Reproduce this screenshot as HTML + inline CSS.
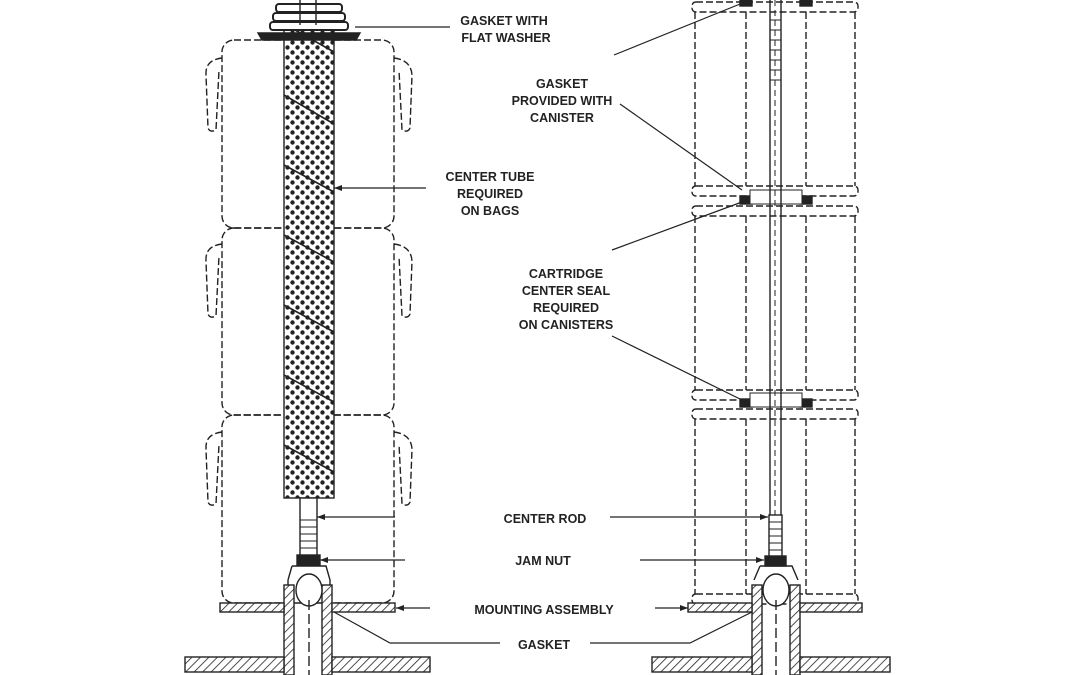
<!DOCTYPE html>
<html><head><meta charset="utf-8"><style>
html,body{margin:0;padding:0;background:#fff;width:1080px;height:675px;overflow:hidden}
svg{display:block}
text{font-family:"Liberation Sans",sans-serif;font-size:12.5px;font-weight:bold;fill:#222;text-anchor:middle}
</style></head><body>
<svg width="1080" height="675" viewBox="0 0 1080 675" xmlns="http://www.w3.org/2000/svg">
<defs>
<pattern id="dots" width="10" height="10" patternUnits="userSpaceOnUse">
<rect width="10" height="10" fill="#fff"/>
<circle cx="2.5" cy="2.5" r="2.2" fill="#222"/><circle cx="7.5" cy="7.5" r="2.2" fill="#222"/>
</pattern>
<pattern id="hatch" width="6" height="6" patternUnits="userSpaceOnUse" patternTransform="rotate(45)">
<rect width="6" height="6" fill="#fff"/><line x1="0" y1="0" x2="0" y2="6" stroke="#222" stroke-width="1.6"/>
</pattern>
</defs>
<g fill="none" stroke="#222" stroke-width="1.4">
<g stroke-dasharray="7,3">
<rect x="222" y="40" width="172" height="188" rx="12"/>
<rect x="222" y="228" width="172" height="187" rx="12"/>
<rect x="222" y="415" width="172" height="188" rx="12"/>
<path d="M222 58 Q205 60 206 75 L208 128 Q210 133 216 130 L219 70"/>
<path d="M394 58 Q411 60 412 75 L410 128 Q408 133 402 130 L399 70"/>
<path d="M222 244 Q205 246 206 261 L208 314 Q210 319 216 316 L219 256"/>
<path d="M394 244 Q411 246 412 261 L410 314 Q408 319 402 316 L399 256"/>
<path d="M222 432 Q205 434 206 449 L208 502 Q210 507 216 504 L219 444"/>
<path d="M394 432 Q411 434 412 449 L410 502 Q408 507 402 504 L399 444"/>
</g>
<rect x="284" y="25" width="50" height="473" fill="url(#dots)"/>
<g stroke-width="1.6">
<line x1="295" y1="30" x2="334" y2="52"/><line x1="284" y1="95" x2="334" y2="124"/>
<line x1="284" y1="165" x2="334" y2="192"/><line x1="284" y1="235" x2="334" y2="262"/>
<line x1="284" y1="305" x2="334" y2="332"/><line x1="284" y1="375" x2="334" y2="402"/>
<line x1="284" y1="445" x2="334" y2="472"/>
</g>
<path d="M258 33 L360 33 L356 40 L262 40Z" fill="#222"/>
<rect x="270" y="22" width="78" height="8" rx="3" fill="#fff" stroke-width="2"/>
<rect x="273" y="13" width="72" height="8" rx="3" fill="#fff" stroke-width="2"/>
<rect x="276" y="4" width="66" height="8" rx="3" fill="#fff" stroke-width="2"/>
<line x1="300" y1="0" x2="300" y2="25"/><line x1="316" y1="0" x2="316" y2="25"/>
<rect x="300" y="498" width="17" height="60" fill="#fff"/>
<g stroke-width="1"><line x1="300" y1="520" x2="317" y2="520"/><line x1="300" y1="527" x2="317" y2="527"/><line x1="300" y1="534" x2="317" y2="534"/><line x1="300" y1="541" x2="317" y2="541"/><line x1="300" y1="548" x2="317" y2="548"/></g>
<rect x="297" y="555" width="23" height="10" fill="#222"/>
<path d="M292 566 L326 566 L330 580 L330 675 M288 580 L292 566 M288 580 L288 675"/>
<rect x="284" y="585" width="10" height="90" fill="url(#hatch)"/>
<rect x="322" y="585" width="10" height="90" fill="url(#hatch)"/>
<ellipse cx="309" cy="590" rx="13" ry="16" fill="#fff"/>
<line x1="309" y1="600" x2="309" y2="675" stroke-dasharray="10,4"/>
<rect x="220" y="603" width="64" height="9" fill="url(#hatch)"/>
<rect x="332" y="603" width="63" height="9" fill="url(#hatch)"/>
<rect x="185" y="657" width="99" height="15" fill="url(#hatch)"/>
<rect x="332" y="657" width="98" height="15" fill="url(#hatch)"/>

<g stroke-dasharray="7,3">
<rect x="692" y="2" width="166" height="10" rx="4"/>
<rect x="692" y="186" width="166" height="10" rx="4"/>
<rect x="692" y="206" width="166" height="10" rx="4"/>
<rect x="692" y="390" width="166" height="10" rx="4"/>
<rect x="692" y="409" width="166" height="10" rx="4"/>
<rect x="692" y="594" width="166" height="10" rx="4"/>
<line x1="695" y1="12" x2="695" y2="186"/><line x1="855" y1="12" x2="855" y2="186"/>
<line x1="746" y1="12" x2="746" y2="186"/><line x1="806" y1="12" x2="806" y2="186"/>
<line x1="695" y1="216" x2="695" y2="390"/><line x1="855" y1="216" x2="855" y2="390"/>
<line x1="746" y1="216" x2="746" y2="390"/><line x1="806" y1="216" x2="806" y2="390"/>
<line x1="695" y1="419" x2="695" y2="594"/><line x1="855" y1="419" x2="855" y2="594"/>
<line x1="746" y1="419" x2="746" y2="594"/><line x1="806" y1="419" x2="806" y2="594"/>
</g>
<rect x="740" y="0" width="12" height="6" fill="#222"/><rect x="800" y="0" width="12" height="6" fill="#222"/>
<rect x="740" y="196" width="12" height="8" fill="#222"/><rect x="800" y="196" width="12" height="8" fill="#222"/>
<rect x="740" y="399" width="12" height="8" fill="#222"/><rect x="800" y="399" width="12" height="8" fill="#222"/>
<rect x="750" y="190" width="52" height="14" fill="#fff" stroke-width="1"/>
<rect x="750" y="393" width="52" height="14" fill="#fff" stroke-width="1"/>
<line x1="770" y1="0" x2="770" y2="515"/><line x1="781" y1="0" x2="781" y2="515"/>
<line x1="775" y1="0" x2="775" y2="515" stroke-dasharray="6,4" stroke-width="1"/>
<g stroke-width="1"><line x1="770" y1="20" x2="781" y2="20"/><line x1="770" y1="30" x2="781" y2="30"/><line x1="770" y1="40" x2="781" y2="40"/><line x1="770" y1="50" x2="781" y2="50"/><line x1="770" y1="60" x2="781" y2="60"/><line x1="770" y1="70" x2="781" y2="70"/><line x1="770" y1="80" x2="781" y2="80"/></g>
<rect x="769" y="515" width="13" height="42" fill="#fff"/>
<g stroke-width="1"><line x1="769" y1="522" x2="782" y2="522"/><line x1="769" y1="529" x2="782" y2="529"/><line x1="769" y1="536" x2="782" y2="536"/><line x1="769" y1="543" x2="782" y2="543"/><line x1="769" y1="550" x2="782" y2="550"/></g>
<rect x="765" y="556" width="21" height="10" fill="#222"/>
<rect x="752" y="585" width="10" height="90" fill="url(#hatch)"/>
<rect x="790" y="585" width="10" height="90" fill="url(#hatch)"/>
<path d="M760 566 L792 566 L798 580 M754 580 L760 566"/>
<ellipse cx="776" cy="590" rx="13" ry="16" fill="#fff"/>
<line x1="776" y1="600" x2="776" y2="675" stroke-dasharray="10,4"/>
<rect x="688" y="603" width="64" height="9" fill="url(#hatch)"/>
<rect x="800" y="603" width="62" height="9" fill="url(#hatch)"/>
<rect x="652" y="657" width="100" height="15" fill="url(#hatch)"/>
<rect x="800" y="657" width="90" height="15" fill="url(#hatch)"/>

<g stroke-width="1.2">
<line x1="355" y1="27" x2="450" y2="27"/>
<line x1="334" y1="188" x2="426" y2="188"/>
<path d="M614 55 L745 2 M620 104 L742 190"/>
<path d="M612 250 L742 202 M612 336 L742 400"/>
<line x1="317" y1="517" x2="395" y2="517"/><line x1="610" y1="517" x2="768" y2="517"/>
<line x1="320" y1="560" x2="405" y2="560"/><line x1="640" y1="560" x2="764" y2="560"/>
<line x1="396" y1="608" x2="430" y2="608"/><line x1="655" y1="608" x2="688" y2="608"/>
<path d="M334 612 L390 643 L500 643 M590 643 L690 643 L752 612"/>
</g>
</g>
<g fill="#222">
<path d="M334 188 l8 -3 v6z"/><path d="M317 517 l8 -3 v6z"/><path d="M320 560 l8 -3 v6z"/>
<path d="M768 517 l-8 -3 v6z"/><path d="M764 560 l-8 -3 v6z"/>
<path d="M396 608 l8 -3 v6z"/><path d="M688 608 l-8 -3 v6z"/>
</g>
<text x="504" y="25">GASKET WITH</text><text x="506" y="42">FLAT WASHER</text>
<text x="562" y="88">GASKET</text><text x="562" y="105">PROVIDED WITH</text><text x="562" y="122">CANISTER</text>
<text x="490" y="181">CENTER TUBE</text><text x="490" y="198">REQUIRED</text><text x="490" y="215">ON BAGS</text>
<text x="566" y="278">CARTRIDGE</text><text x="566" y="295">CENTER SEAL</text><text x="566" y="312">REQUIRED</text><text x="566" y="329">ON CANISTERS</text>
<text x="545" y="523">CENTER ROD</text>
<text x="543" y="565">JAM NUT</text>
<text x="544" y="614">MOUNTING ASSEMBLY</text>
<text x="544" y="649">GASKET</text>
</svg>
</body></html>
